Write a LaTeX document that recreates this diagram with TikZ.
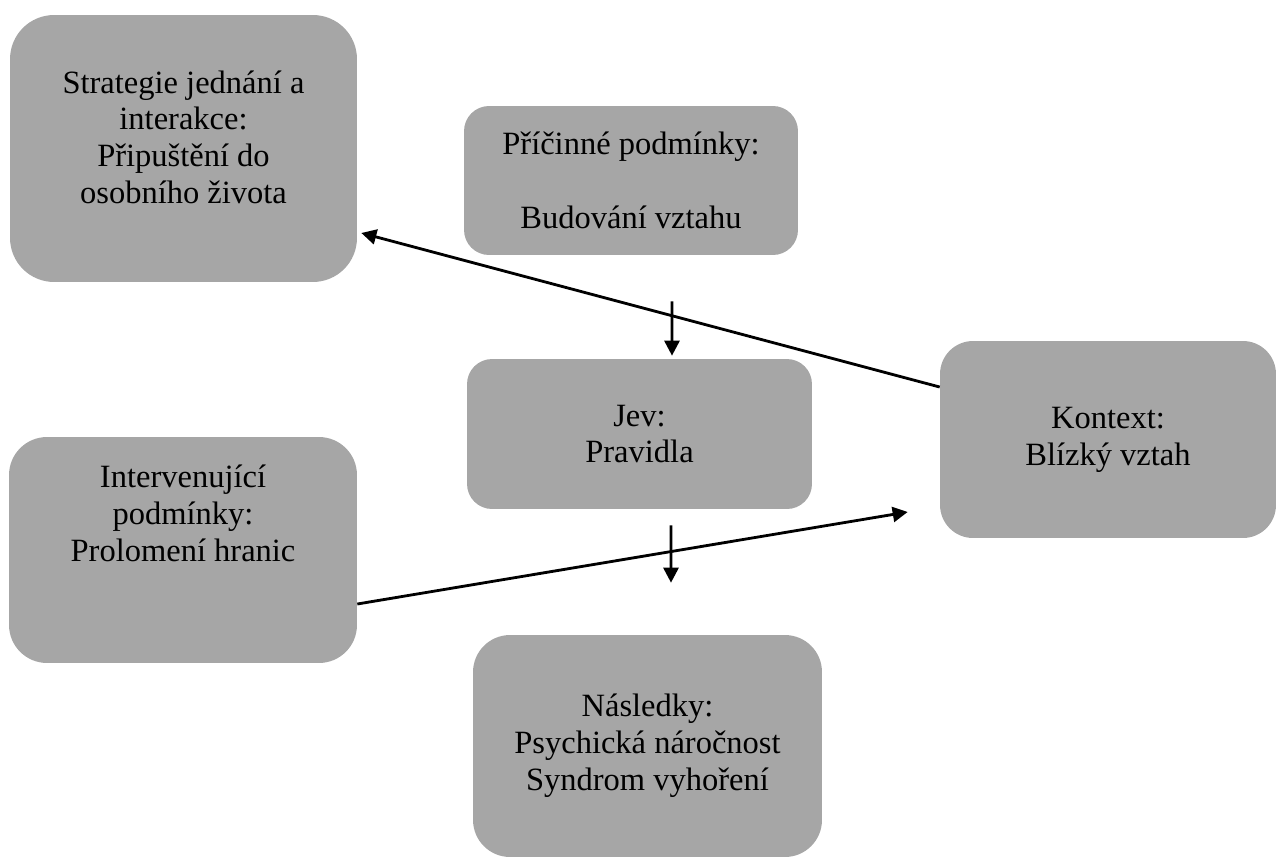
\documentclass[tikz,border=0pt]{standalone}
\usepackage{fontspec}
\setmainfont{Liberation Serif}
\usepackage{xcolor}
\usepackage{tikz}
\usetikzlibrary{arrows.meta,positioning}
\definecolor{boxgray}{HTML}{A6A6A6}

\begin{document}
\begin{tikzpicture}[x=0.02cm, y=-0.02cm,
  every node/.style={font=\fontsize{18.5}{21}\selectfont},
  box/.style={fill=boxgray,align=center,inner sep=0pt},
  arr/.style={line width=1.6pt,-{Triangle[length=0.3cm,width=0.3cm]}}]
\useasboundingbox (0,0) rectangle (1277,859);
\node[box,rounded corners=0.88cm,minimum width=6.94cm,minimum height=5.34cm] (strat) at (183.5,148.5) {Strategie jednání a\\interakce:\\Připuštění do\\osobního života\\[-8pt]};
\node[box,rounded corners=0.5cm,minimum width=6.68cm,minimum height=2.98cm] (pric) at (631,180.5) {Příčinné podmínky:\\ \mbox{}\\Budování vztahu};
\node[box,rounded corners=0.5cm,minimum width=6.9cm,minimum height=3cm] (jev) at (639.5,434) {Jev:\\Pravidla};
\node[box,rounded corners=0.66cm,minimum width=6.72cm,minimum height=3.94cm] (kontext) at (1108,439.5) {Kontext:\\Blízký vztah};
\node[box,rounded corners=0.76cm,minimum width=6.96cm,minimum height=4.52cm] (interv) at (183,550) {Intervenující\\podmínky:\\Prolomení hranic\\ \mbox{}\\ \mbox{}};
\node[box,rounded corners=0.74cm,minimum width=6.98cm,minimum height=4.44cm] (nasl) at (647.5,746) {Následky:\\Psychická náročnost\\Syndrom vyhoření};
\draw[arr] ([xshift=0.82cm,yshift=-0.92cm]pric.south) -- ([xshift=0.65cm,yshift=0.06cm]jev.north);
\draw[arr] ([xshift=0.63cm,yshift=-0.32cm]jev.south) -- ([xshift=0.47cm,yshift=1.04cm]nasl.north);
\draw[arr] ([yshift=1.05cm]kontext.west) -- ([xshift=0.08cm,yshift=-1.69cm]strat.east);
\draw[arr] ([yshift=-1.08cm]interv.east) -- ([xshift=-0.64cm,yshift=-1.45cm]kontext.west);
\end{tikzpicture}
\end{document}
